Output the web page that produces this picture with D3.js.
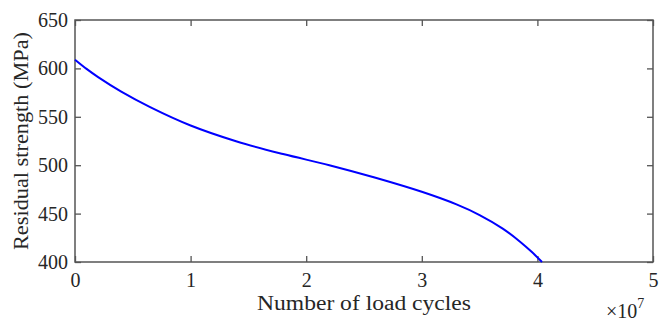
<!DOCTYPE html>
<html>
<head>
<meta charset="utf-8">
<script src="https://cdn.jsdelivr.net/npm/d3@7"></script>
<style>
  body { margin: 0; background: #fff; }
  text { font-family: "Liberation Serif", "Times New Roman", serif; fill: #262626; }
</style>
</head>
<body>
<svg width="671" height="321"></svg>
<script>
// load cycles (x 1e7) and residual strength (MPa)
var cycles = [0, 0.1, 0.2, 0.4, 0.65, 1.0, 1.4, 1.8, 2.2, 2.6, 3.0, 3.3, 3.5, 3.7, 3.85, 3.95, 4.04];
var strength = [609, 599.5, 591, 576, 560, 541, 524.5, 511.5, 500, 487, 472.5, 459.5, 448.5, 434.5, 421, 410.5, 400];
var xTicks = [0, 1, 2, 3, 4, 5];
var yTicks = [400, 450, 500, 550, 600, 650];

var data = cycles.map(function(c, i) { return {c: c, s: strength[i]}; });

var svg = d3.select("svg"),
    margin = {top: 20, right: 18, bottom: 59, left: 75},
    width = svg.attr("width") - margin.left - margin.right,
    height = svg.attr("height") - margin.top - margin.bottom,
    g = svg.append("g").attr("transform", "translate(" + margin.left + "," + margin.top + ")");

var x = d3.scaleLinear().domain([0, 5]).range([0, width]),
    y = d3.scaleLinear().domain([400, 650]).range([height, 0]);

var axisColor = "#555";

function styleAxis(sel) {
  sel.select(".domain").remove();
  sel.selectAll(".tick line").attr("stroke", axisColor).attr("stroke-width", 1.3);
  sel.selectAll(".tick text").attr("font-size", "20px").attr("fill", "#262626")
    .attr("font-family", "Liberation Serif, serif");
}

g.append("g")
    .attr("transform", "translate(0," + height + ")")
    .call(d3.axisTop(x).tickValues(xTicks).tickSize(6).tickFormat(""))
    .call(styleAxis);

g.append("g")
    .attr("transform", "translate(0," + height + ")")
    .call(d3.axisBottom(x).tickValues(xTicks).tickSize(0).tickPadding(11).tickFormat(d3.format("d")))
    .call(styleAxis);

g.append("g")
    .call(d3.axisBottom(x).tickValues(xTicks).tickSize(6).tickFormat(""))
    .call(styleAxis);

g.append("g")
    .call(d3.axisRight(y).tickValues(yTicks).tickSize(6).tickFormat(""))
    .call(styleAxis);

g.append("g")
    .call(d3.axisLeft(y).tickValues(yTicks).tickSize(0).tickPadding(7).tickFormat(d3.format("d")))
    .call(styleAxis);

g.append("g")
    .attr("transform", "translate(" + width + ",0)")
    .call(d3.axisLeft(y).tickValues(yTicks).tickSize(6).tickFormat(""))
    .call(styleAxis);

g.append("rect")
    .attr("width", width)
    .attr("height", height)
    .attr("fill", "none")
    .attr("stroke", axisColor)
    .attr("stroke-width", 1.5);

var line = d3.line()
    .x(function(d) { return x(d.c); })
    .y(function(d) { return y(d.s); })
    .curve(d3.curveCatmullRom.alpha(0.5));

g.append("path")
    .datum(data)
    .attr("d", line)
    .attr("fill", "none")
    .attr("stroke", "#0000ff")
    .attr("stroke-width", 2);

g.append("text")
    .attr("x", width / 2)
    .attr("y", height + 48)
    .attr("text-anchor", "middle")
    .attr("font-size", "20px")
    .attr("textLength", 214)
    .attr("lengthAdjust", "spacingAndGlyphs")
    .text("Number of load cycles");

g.append("text")
    .attr("transform", "translate(-47," + (height / 2) + ") rotate(-90)")
    .attr("text-anchor", "middle")
    .attr("font-size", "20px")
    .attr("textLength", 218)
    .attr("lengthAdjust", "spacingAndGlyphs")
    .text("Residual strength (MPa)");

var exp = g.append("text")
    .attr("x", width - 47)
    .attr("y", height + 56)
    .attr("font-size", "20px");
exp.append("tspan").text("\u00d710");
exp.append("tspan").attr("dy", -10).attr("font-size", "14px").text("7");
</script>
</body>
</html>
